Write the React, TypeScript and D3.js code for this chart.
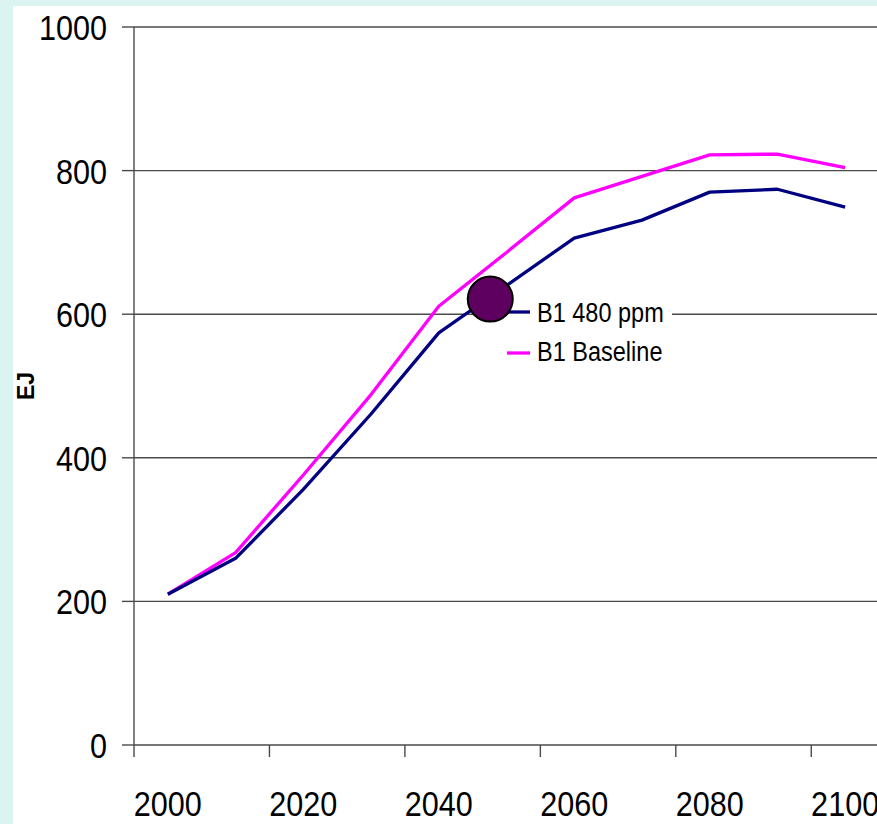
import React from "react";
import * as d3 from "d3";

// Primary energy demand, EJ, by decade
const years = [2000, 2010, 2020, 2030, 2040, 2050, 2060, 2070, 2080, 2090, 2100];
const b1_480ppm = [210, 260, 356, 461, 574, 640, 706, 731, 770, 774, 749];
const b1_baseline = [210, 268, 376, 488, 611, 686, 762, 792, 822, 823, 804];
const yTicks = [0, 200, 400, 600, 800, 1000];
const labelYears = [2000, 2020, 2040, 2060, 2080, 2100];
const seriesNames = ["B1 480 ppm", "B1 Baseline"];
// highlighted point on the 480 ppm path
const highlight = { year: 2047.6, value: 621 };

const W = 877;
const H = 824;
const FONT = "'Liberation Sans', Arial, sans-serif";
const SQUEEZE = 0.85;

export default function App() {
  const x = d3
    .scaleBand<number>()
    .domain(years)
    .range([134, 879])
    .paddingInner(0)
    .paddingOuter(0);
  const cx = (yr: number) => (x(yr) as number) + x.bandwidth() / 2;
  const y = d3.scaleLinear().domain([0, 1000]).range([745, 27]);

  const line = d3
    .line<number>()
    .x((_, i) => cx(years[i]))
    .y((v) => y(v));

  // boundary ticks every two categories
  const tickXs = d3.range(0, years.length + 1, 2).map((i) => 134 + i * x.step());

  const hx = cx(2040) + ((highlight.year - 2040) / 10) * x.step();
  const hy = y(highlight.value);

  const grid = "#4a4a4a";

  return (
    <svg
      width={W}
      height={H}
      style={{ position: "absolute", left: 0, top: 0 }}
      fontFamily={FONT}
    >
      <rect x={0} y={0} width={W} height={H} fill="#dcf4f1" />
      <rect x={13} y={6} width={W - 13} height={H - 6} fill="#ffffff" />

      {/* horizontal gridlines and y ticks */}
      {yTicks.map((t) => (
        <g key={t}>
          {t > 0 && (
            <line x1={134} x2={W} y1={y(t)} y2={y(t)} stroke={grid} strokeWidth={1.4} />
          )}
          <line x1={122} x2={134} y1={y(t)} y2={y(t)} stroke={grid} strokeWidth={1.4} />
          <text
            transform={`translate(107,${y(t) + 13}) scale(${SQUEEZE},1)`}
            textAnchor="end"
            fontSize={36}
            fill="#000"
          >
            {t}
          </text>
        </g>
      ))}

      {/* axes */}
      <line x1={134} x2={134} y1={y(1000)} y2={y(0)} stroke={grid} strokeWidth={1.4} />
      <line x1={134} x2={W} y1={y(0)} y2={y(0)} stroke={grid} strokeWidth={1.6} />
      {tickXs.map((tx, i) => (
        <line key={i} x1={tx} x2={tx} y1={y(0)} y2={y(0) + 12} stroke={grid} strokeWidth={1.4} />
      ))}
      {labelYears.map((yr) => (
        <text
          key={yr}
          transform={`translate(${cx(yr)},816) scale(${SQUEEZE},1)`}
          textAnchor="middle"
          fontSize={36}
          fill="#000"
        >
          {yr}
        </text>
      ))}

      <text
        transform={`translate(34,386) rotate(-90)`}
        textAnchor="middle"
        fontSize={23}
        fontWeight="bold"
        fill="#000"
      >
        EJ
      </text>

      {/* series */}
      <path d={line(b1_baseline) ?? ""} fill="none" stroke="#ff00ff" strokeWidth={3.3} strokeLinejoin="round" />
      <path d={line(b1_480ppm) ?? ""} fill="none" stroke="#000080" strokeWidth={3.3} strokeLinejoin="round" />

      {/* legend */}
      <rect x={505} y={296} width={167} height={74} fill="#ffffff" />
      <line x1={508} x2={530} y1={312} y2={312} stroke="#000080" strokeWidth={3.3} />
      <line x1={507} x2={530} y1={353} y2={353} stroke="#ff00ff" strokeWidth={3.3} />
      <text transform={`translate(537,322) scale(0.84,1)`} fontSize={28} fill="#000">
        {seriesNames[0]}
      </text>
      <text transform={`translate(537,361) scale(0.84,1)`} fontSize={28} fill="#000">
        {seriesNames[1]}
      </text>

      {/* highlighted point */}
      <circle cx={hx} cy={hy} r={22.5} fill="#5e005f" stroke="#000" strokeWidth={2} />
    </svg>
  );
}
